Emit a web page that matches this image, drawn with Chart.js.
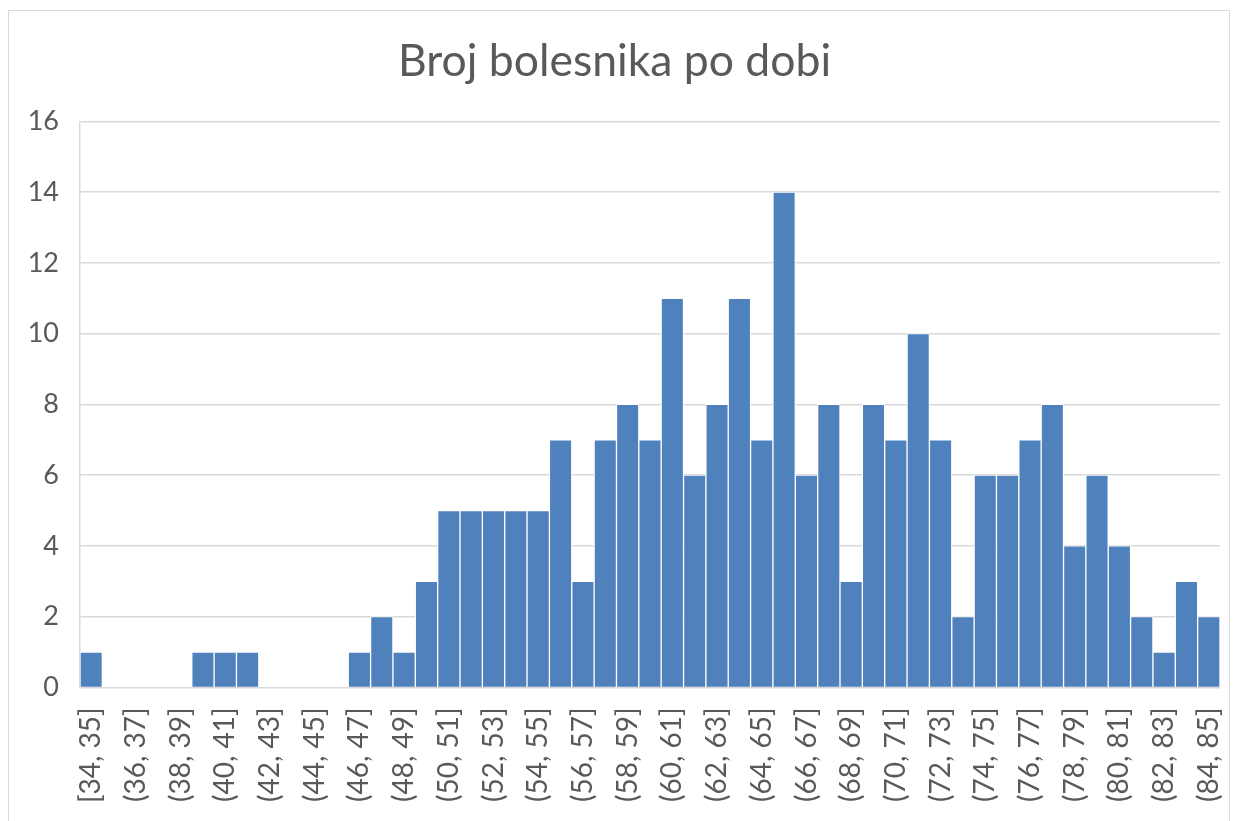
<!DOCTYPE html>
<html>
<head>
<meta charset="utf-8">
<script src="https://cdn.jsdelivr.net/npm/chart.js@4/dist/chart.umd.min.js"></script>
<style>
  body { margin: 0; background: #fff; overflow: hidden; }
  #box { position: absolute; left: 8px; top: 10px; width: 1222px; height: 830px; border: 1px solid #d9d9d9; box-sizing: border-box; }
</style>
</head>
<body>
<div id="box"><canvas id="myChart"></canvas></div>
<script>
var ageGroups = ["[34, 35]", "(35, 36]", "(36, 37]", "(37, 38]", "(38, 39]", "(39, 40]", "(40, 41]", "(41, 42]",
  "(42, 43]", "(43, 44]", "(44, 45]", "(45, 46]", "(46, 47]", "(47, 48]", "(48, 49]", "(49, 50]",
  "(50, 51]", "(51, 52]", "(52, 53]", "(53, 54]", "(54, 55]", "(55, 56]", "(56, 57]", "(57, 58]",
  "(58, 59]", "(59, 60]", "(60, 61]", "(61, 62]", "(62, 63]", "(63, 64]", "(64, 65]", "(65, 66]",
  "(66, 67]", "(67, 68]", "(68, 69]", "(69, 70]", "(70, 71]", "(71, 72]", "(72, 73]", "(73, 74]",
  "(74, 75]", "(75, 76]", "(76, 77]", "(77, 78]", "(78, 79]", "(79, 80]", "(80, 81]", "(81, 82]",
  "(82, 83]", "(83, 84]", "(84, 85]"];
var patients = [1, 0, 0, 0, 0, 1, 1, 1,
  0, 0, 0, 0, 1, 2, 1, 3,
  5, 5, 5, 5, 5, 7, 3, 7,
  8, 7, 11, 6, 8, 11, 7, 14,
  6, 8, 3, 8, 7, 10, 7, 2,
  6, 6, 7, 8, 4, 6, 4, 2,
  1, 3, 2];
var yTicks = [0, 2, 4, 6, 8, 10, 12, 14, 16];

var ctx = document.getElementById("myChart");
var myChart = new Chart(ctx, {
  type: 'bar',
  data: {
    labels: ageGroups,
    datasets: [{
      label: 'Broj bolesnika',
      data: patients,
      backgroundColor: '#4f81bd',
      borderColor: '#ffffff',
      borderWidth: 1,
      barPercentage: 1,
      categoryPercentage: 1
    }]
  },
  options: {
    responsive: true,
    maintainAspectRatio: false,
    animation: false,
    layout: { padding: { left: 0, right: 9, top: 0, bottom: 16 } },
    plugins: {
      legend: { display: false },
      tooltip: { enabled: false },
      title: {
        display: true,
        text: 'Broj bolesnika po dobi',
        color: '#595959',
        font: { family: 'Lato', size: 44.5, weight: 'normal' },
        padding: { top: 24, bottom: 33 }
      }
    },
    scales: {
      x: {
        afterFit: function (axis) { axis.paddingLeft = 0; axis.paddingRight = 0; },
        grid: { display: false, drawTicks: false },
        border: { display: false },
        ticks: {
          autoSkip: false,
          minRotation: 90,
          maxRotation: 90,
          padding: 20,
          color: '#595959',
          font: { family: 'Lato', size: 28 },
          callback: function (v, i) { return i % 2 === 0 ? ageGroups[i] : ''; }
        }
      },
      y: {
        min: 0,
        max: 16,
        afterBuildTicks: function (axis) { axis.ticks = yTicks.map(function (v) { return { value: v }; }); },
        afterFit: function (axis) { axis.width = 71; },
        grid: { color: '#d9d9d9', lineWidth: 1.5, drawTicks: false },
        border: { display: true, color: '#d9d9d9', width: 1.5 },
        ticks: {
          padding: 21,
          color: '#595959',
          font: { family: 'Lato', size: 27 }
        }
      }
    }
  }
});
</script>
</body>
</html>
